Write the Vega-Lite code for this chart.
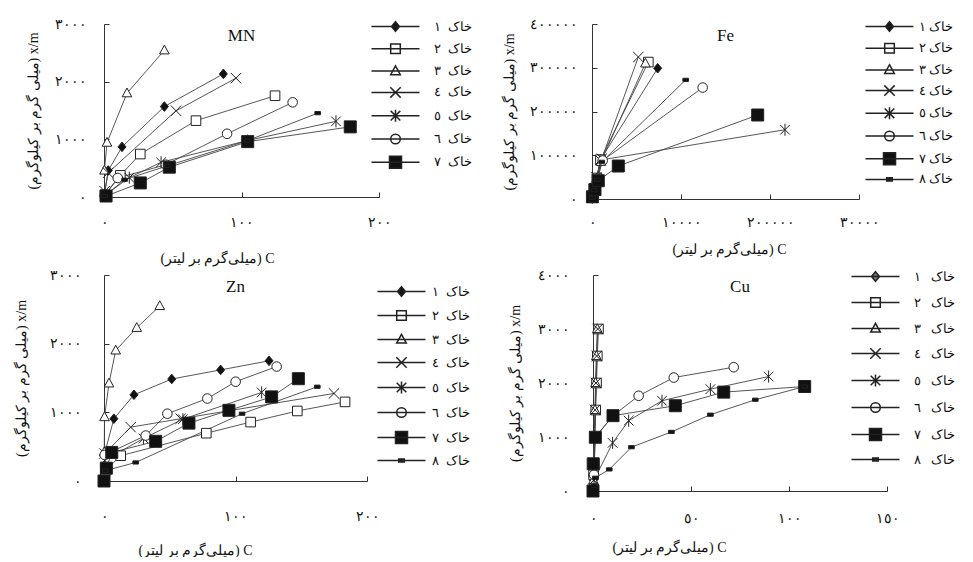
{
"$schema": "https://vega.github.io/schema/vega-lite/v6.json",
"background": "white",
"padding": {"left": 14, "top": 17, "right": 0, "bottom": 0},
"config": {
  "view": {"stroke": null},
  "font": "Liberation Serif",
  "axis": {"grid": false, "domainColor": "#333", "tickColor": "#333", "tickSize": -5, "labelFont": "Liberation Serif", "labelFontSize": 14, "labelColor": "#111", "labelFlush": false, "labelOverlap": false, "titleFont": "Liberation Serif", "titleFontSize": 14, "titleFontWeight": "normal", "titleColor": "#111", "labelAngle": 0},
  "legend": {"labelFont": "Liberation Serif", "labelFontSize": 13, "labelColor": "#111", "symbolSize": 64, "padding": 0, "direction": "vertical", "orient": "none", "title": null},
  "title": {"font": "Liberation Serif", "fontSize": 17, "fontWeight": "normal", "anchor": "middle", "offset": -28, "color": "#111"}
},
"datasets": {
  "mn": [
    {"soil":1,"C":0.5,"xm":60},{"soil":1,"C":3.1,"xm":460},{"soil":1,"C":13.1,"xm":869},{"soil":1,"C":43.9,"xm":1568},{"soil":1,"C":86.8,"xm":2135},
    {"soil":2,"C":0.8,"xm":40},{"soil":2,"C":11.9,"xm":375},{"soil":2,"C":26.4,"xm":745},{"soil":2,"C":66.9,"xm":1324},{"soil":2,"C":124.4,"xm":1756},
    {"soil":3,"C":0.3,"xm":460},{"soil":3,"C":2.2,"xm":943},{"soil":3,"C":16.7,"xm":1800},{"soil":3,"C":43.9,"xm":2544},
    {"soil":4,"C":0.5,"xm":100},{"soil":4,"C":3,"xm":420},{"soil":4,"C":52.4,"xm":1495},{"soil":4,"C":96,"xm":2061},
    {"soil":5,"C":0.5,"xm":30},{"soil":5,"C":18.4,"xm":335},{"soil":5,"C":41.5,"xm":602},{"soil":5,"C":104.5,"xm":980},{"soil":5,"C":168.7,"xm":1312},
    {"soil":6,"C":0.5,"xm":30},{"soil":6,"C":10,"xm":330},{"soil":6,"C":45,"xm":560},{"soil":6,"C":89.5,"xm":1096},{"soil":6,"C":137.2,"xm":1641},
    {"soil":7,"C":1.5,"xm":17},{"soil":7,"C":26.4,"xm":244},{"soil":7,"C":47.5,"xm":517},{"soil":7,"C":104.5,"xm":960},{"soil":7,"C":179.1,"xm":1216},
    {"soil":8,"C":0.5,"xm":20},{"soil":8,"C":15,"xm":300},{"soil":8,"C":46,"xm":540},{"soil":8,"C":104,"xm":975},{"soil":8,"C":155.4,"xm":1454}
  ],
  "fe": [
    {"soil":1,"C":30,"xm":3000},{"soil":1,"C":200,"xm":20000},{"soil":1,"C":500,"xm":45000},{"soil":1,"C":900,"xm":88000},{"soil":1,"C":7378,"xm":298800},
    {"soil":2,"C":30,"xm":3000},{"soil":2,"C":220,"xm":22000},{"soil":2,"C":550,"xm":48000},{"soil":2,"C":950,"xm":90000},{"soil":2,"C":6330,"xm":313000},
    {"soil":3,"C":30,"xm":3000},{"soil":3,"C":200,"xm":21000},{"soil":3,"C":520,"xm":46000},{"soil":3,"C":1000,"xm":85000},{"soil":3,"C":6000,"xm":310000},
    {"soil":4,"C":30,"xm":3500},{"soil":4,"C":200,"xm":22000},{"soil":4,"C":500,"xm":50000},{"soil":4,"C":1100,"xm":92000},{"soil":4,"C":5206,"xm":324600},
    {"soil":5,"C":40,"xm":3000},{"soil":5,"C":250,"xm":20000},{"soil":5,"C":600,"xm":45000},{"soil":5,"C":900,"xm":89000},{"soil":5,"C":21685,"xm":158300},
    {"soil":6,"C":30,"xm":3000},{"soil":6,"C":250,"xm":22000},{"soil":6,"C":600,"xm":46000},{"soil":6,"C":1200,"xm":88000},{"soil":6,"C":12434,"xm":254700},
    {"soil":7,"C":50,"xm":5000},{"soil":7,"C":337,"xm":21700},{"soil":7,"C":708,"xm":41700},{"soil":7,"C":2955,"xm":75400},{"soil":7,"C":18618,"xm":192000},
    {"soil":8,"C":30,"xm":3000},{"soil":8,"C":220,"xm":20000},{"soil":8,"C":600,"xm":44000},{"soil":8,"C":1100,"xm":85000},{"soil":8,"C":10524,"xm":272300}
  ],
  "zn": [
    {"soil":1,"C":0.5,"xm":400},{"soil":1,"C":7.5,"xm":907},{"soil":1,"C":22.8,"xm":1255},{"soil":1,"C":51.5,"xm":1485},{"soil":1,"C":88.7,"xm":1618},{"soil":1,"C":125.5,"xm":1750},
    {"soil":2,"C":1,"xm":150},{"soil":2,"C":12.7,"xm":368},{"soil":2,"C":77.8,"xm":696},{"soil":2,"C":111.5,"xm":858},{"soil":2,"C":147,"xm":1020},{"soil":2,"C":183.3,"xm":1152},
    {"soil":3,"C":0.2,"xm":420},{"soil":3,"C":0.4,"xm":931},{"soil":3,"C":3.8,"xm":1422},{"soil":3,"C":8.9,"xm":1902},{"soil":3,"C":24.9,"xm":2231},{"soil":3,"C":42.4,"xm":2549},
    {"soil":4,"C":0.5,"xm":400},{"soil":4,"C":20.3,"xm":784},{"soil":4,"C":58.3,"xm":907},{"soil":4,"C":174.9,"xm":1275},
    {"soil":5,"C":0.5,"xm":300},{"soil":5,"C":30,"xm":620},{"soil":5,"C":60,"xm":900},{"soil":5,"C":119.9,"xm":1290},
    {"soil":6,"C":0.5,"xm":380},{"soil":6,"C":31.7,"xm":662},{"soil":6,"C":48.2,"xm":980},{"soil":6,"C":78.6,"xm":1201},{"soil":6,"C":100.1,"xm":1446},{"soil":6,"C":131.3,"xm":1667},
    {"soil":7,"C":0,"xm":0},{"soil":7,"C":1.8,"xm":187},{"soil":7,"C":5.9,"xm":416},{"soil":7,"C":39.3,"xm":578},{"soil":7,"C":64.6,"xm":843},{"soil":7,"C":95,"xm":1029},{"soil":7,"C":127.5,"xm":1225},{"soil":7,"C":147.8,"xm":1490},
    {"soil":8,"C":1,"xm":150},{"soil":8,"C":24.1,"xm":270},{"soil":8,"C":105,"xm":980},{"soil":8,"C":162.2,"xm":1373}
  ],
  "cu": [
    {"soil":1,"C":0.2,"xm":200},{"soil":1,"C":0.5,"xm":500},{"soil":1,"C":0.8,"xm":1000},{"soil":1,"C":1.2,"xm":1500},{"soil":1,"C":1.5,"xm":2000},{"soil":1,"C":2,"xm":2500},
    {"soil":2,"C":0.3,"xm":300},{"soil":2,"C":0.6,"xm":500},{"soil":2,"C":1,"xm":1000},{"soil":2,"C":1.4,"xm":1500},{"soil":2,"C":1.8,"xm":2000},{"soil":2,"C":2.2,"xm":2500},{"soil":2,"C":2.8,"xm":3000},
    {"soil":3,"C":0.2,"xm":200},{"soil":3,"C":0.4,"xm":500},{"soil":3,"C":0.7,"xm":1000},{"soil":3,"C":1,"xm":1500},{"soil":3,"C":1.3,"xm":2000},{"soil":3,"C":1.7,"xm":2500},{"soil":3,"C":2.2,"xm":3000},
    {"soil":4,"C":0.3,"xm":200},{"soil":4,"C":0.5,"xm":500},{"soil":4,"C":0.8,"xm":1000},{"soil":4,"C":1.1,"xm":1500},{"soil":4,"C":1.5,"xm":2000},{"soil":4,"C":1.9,"xm":2500},{"soil":4,"C":2.4,"xm":3000},
    {"soil":5,"C":0.5,"xm":200},{"soil":5,"C":10,"xm":891},{"soil":5,"C":18.2,"xm":1302},{"soil":5,"C":35.2,"xm":1671},{"soil":5,"C":59.9,"xm":1886},{"soil":5,"C":89.6,"xm":2120},
    {"soil":6,"C":0.5,"xm":300},{"soil":6,"C":1.2,"xm":995},{"soil":6,"C":10.2,"xm":1395},{"soil":6,"C":23.3,"xm":1763},{"soil":6,"C":41.2,"xm":2101},{"soil":6,"C":71.8,"xm":2292},
    {"soil":7,"C":0,"xm":0},{"soil":7,"C":0.1,"xm":504},{"soil":7,"C":1.2,"xm":995},{"soil":7,"C":10.2,"xm":1395},{"soil":7,"C":42,"xm":1579},{"soil":7,"C":66.7,"xm":1831},{"soil":7,"C":108,"xm":1935},
    {"soil":8,"C":0.5,"xm":100},{"soil":8,"C":1.2,"xm":246},{"soil":8,"C":8.3,"xm":400},{"soil":8,"C":19.6,"xm":811},{"soil":8,"C":40,"xm":1094},{"soil":8,"C":59.9,"xm":1413},{"soil":8,"C":82.8,"xm":1690},{"soil":8,"C":108,"xm":1935}
  ]
},
"resolve": {"scale": {"shape": "independent", "fill": "independent"}},
"spacing": 3,
"vconcat": [
 {"hconcat": [
  {"width": 275, "height": 173, "title": {"text": "MN"},
   "data": {"name": "mn"},
   "encoding": {
     "x": {"field": "C", "type": "quantitative", "scale": {"domain": [0, 200], "nice": false},
           "axis": {"values": [0, 100, 200], "labelExpr": "['٠','١٠٠','٢٠٠'][indexof([0,100,200], datum.value)]", "labelPadding": 23, "title": "(میلی‌گرم بر لیتر) C", "titlePadding": 22, "titleX": 113}},
     "y": {"field": "xm", "type": "quantitative", "scale": {"domain": [0, 3000], "nice": false},
           "axis": {"values": [0, 1000, 2000, 3000], "labelExpr": "['٠','١٠٠٠','٢٠٠٠','٣٠٠٠'][indexof([0,1000,2000,3000], datum.value)]", "labelPadding": 23, "title": "(میلی گرم بر کیلوگرم) x/m", "titlePadding": 14}}
   },
   "resolve": {"scale": {"shape": "independent", "fill": "independent"}},
   "layer": [
     {"mark": {"type": "line", "color": "#444", "strokeWidth": 0.9}, "encoding": {"detail": {"field": "soil", "type": "nominal"}}},
     {"mark": {"type": "point", "filled": true, "stroke": "#222", "strokeWidth": 1, "size": 64, "opacity": 1},
      "encoding": {
        "shape": {"field": "soil", "type": "nominal", "legend": null,
          "scale": {"domain": [1,2,3,4,5,6,7,8], "range": ["M0,-1.2L1,0L0,1.2L-1,0Z","M-1.2,-1.2H1.2V1.2H-1.2Z","M0,-1.3L1.2,0.9H-1.2Z","M-1.3,-1.3L1.3,1.3M-1.3,1.3L1.3,-1.3","M-1.2,-1.2L1.2,1.2M-1.2,1.2L1.2,-1.2M0,-1.5V1.5","M1.2,0A1.2,1.2,0,1,1,-1.2,0A1.2,1.2,0,1,1,1.2,0Z","M-1.5,-1.5H1.5V1.5H-1.5Z","M-0.7,-0.4H0.7V0.4H-0.7Z"]}},
        "fill": {"field": "soil", "type": "nominal", "legend": null, "scale": {"domain": [1,2,3,4,5,6,7,8], "range": ["#111","#fff","#fff","#fff","#fff","#fff","#111","#111"]}}
      }},
     {"transform": [{"filter": "datum.soil > 100"}],
      "mark": {"type": "point", "filled": true, "stroke": "#222", "strokeWidth": 1, "size": 64, "opacity": 1},
      "encoding": {
        "shape": {"field": "soil", "type": "nominal",
          "scale": {"domain": [8,7,6,5,4,3,2,1], "range": ["M-6,0H6M-0.7,-0.4H0.7V0.4H-0.7Z","M-6,0H6M-1.5,-1.5H1.5V1.5H-1.5Z","M-6,0H6M1.2,0A1.2,1.2,0,1,1,-1.2,0A1.2,1.2,0,1,1,1.2,0Z","M-6,0H6M-1.2,-1.2L1.2,1.2M-1.2,1.2L1.2,-1.2M0,-1.5V1.5","M-6,0H6M-1.3,-1.3L1.3,1.3M-1.3,1.3L1.3,-1.3","M-6,0H6M0,-1.3L1.2,0.9H-1.2Z","M-6,0H6M-1.2,-1.2H1.2V1.2H-1.2Z","M-6,0H6M0,-1.2L1,0L0,1.2L-1,0Z"]},
          "legend": {"legendX": 285, "legendY": -4, "rowPadding": 5.3, "labelOffset": 32, "values": [1,2,3,4,5,6,7],
            "labelExpr": "'خاک\u00a0\u00a0' + ['١','٢','٣','٤','٥','٦','٧','٨'][datum.value-1]"}},
        "fill": {"field": "soil", "type": "nominal", "legend": null, "scale": {"domain": [8,7,6,5,4,3,2,1], "range": ["#111","#111","#fff","#fff","#fff","#fff","#fff","#111"]}}
      }}
   ]},
  {"width": 267, "height": 175, "title": {"text": "Fe"},
   "data": {"name": "fe"},
   "encoding": {
     "x": {"field": "C", "type": "quantitative", "scale": {"domain": [0, 30000], "nice": false},
           "axis": {"values": [0, 10000, 20000, 30000], "labelExpr": "['٠','١٠٠٠٠','٢٠٠٠٠٠','٣٠٠٠٠'][indexof([0,10000,20000,30000], datum.value)]", "labelPadding": 21, "title": "(میلی‌گرم بر لیتر) C", "titlePadding": 13, "titleX": 137}},
     "y": {"field": "xm", "type": "quantitative", "scale": {"domain": [0, 400000], "nice": false},
           "axis": {"values": [0, 100000, 200000, 300000, 400000], "labelExpr": "['٠','١٠٠٠٠٠','٢٠٠٠٠٠','٣٠٠٠٠٠','٤٠٠٠٠٠'][indexof([0,100000,200000,300000,400000], datum.value)]", "labelPadding": 20, "title": "(میلی گرم بر کیلوگرم) x/m", "titlePadding": 13}}
   },
   "resolve": {"scale": {"shape": "independent", "fill": "independent"}},
   "layer": [
     {"mark": {"type": "line", "color": "#444", "strokeWidth": 0.9}, "encoding": {"detail": {"field": "soil", "type": "nominal"}}},
     {"mark": {"type": "point", "filled": true, "stroke": "#222", "strokeWidth": 1, "size": 64, "opacity": 1},
      "encoding": {
        "shape": {"field": "soil", "type": "nominal", "legend": null,
          "scale": {"domain": [1,2,3,4,5,6,7,8], "range": ["M0,-1.2L1,0L0,1.2L-1,0Z","M-1.2,-1.2H1.2V1.2H-1.2Z","M0,-1.3L1.2,0.9H-1.2Z","M-1.3,-1.3L1.3,1.3M-1.3,1.3L1.3,-1.3","M-1.2,-1.2L1.2,1.2M-1.2,1.2L1.2,-1.2M0,-1.5V1.5","M1.2,0A1.2,1.2,0,1,1,-1.2,0A1.2,1.2,0,1,1,1.2,0Z","M-1.5,-1.5H1.5V1.5H-1.5Z","M-0.7,-0.4H0.7V0.4H-0.7Z"]}},
        "fill": {"field": "soil", "type": "nominal", "legend": null, "scale": {"domain": [1,2,3,4,5,6,7,8], "range": ["#111","#fff","#fff","#fff","#fff","#fff","#111","#111"]}}
      }},
     {"transform": [{"filter": "datum.soil > 100"}],
      "mark": {"type": "point", "filled": true, "stroke": "#222", "strokeWidth": 1, "size": 64, "opacity": 1},
      "encoding": {
        "shape": {"field": "soil", "type": "nominal",
          "scale": {"domain": [8,7,6,5,4,3,2,1], "range": ["M-6,0H6M-0.7,-0.4H0.7V0.4H-0.7Z","M-6,0H6M-1.5,-1.5H1.5V1.5H-1.5Z","M-6,0H6M1.2,0A1.2,1.2,0,1,1,-1.2,0A1.2,1.2,0,1,1,1.2,0Z","M-6,0H6M-1.2,-1.2L1.2,1.2M-1.2,1.2L1.2,-1.2M0,-1.5V1.5","M-6,0H6M-1.3,-1.3L1.3,1.3M-1.3,1.3L1.3,-1.3","M-6,0H6M0,-1.3L1.2,0.9H-1.2Z","M-6,0H6M-1.2,-1.2H1.2V1.2H-1.2Z","M-6,0H6M0,-1.2L1,0L0,1.2L-1,0Z"]},
          "legend": {"legendX": 291, "legendY": -4, "rowPadding": 4.7, "labelOffset": 23, "values": [1,2,3,4,5,6,7,8],
            "labelExpr": "'خاک\u00a0' + ['١','٢','٣','٤','٥','٦','٧','٨'][datum.value-1]"}},
        "fill": {"field": "soil", "type": "nominal", "legend": null, "scale": {"domain": [8,7,6,5,4,3,2,1], "range": ["#111","#111","#fff","#fff","#fff","#fff","#fff","#111"]}}
      }}
   ]}
 ], "spacing": 30, "resolve": {"scale": {"shape": "independent", "fill": "independent"}}},
 {"hconcat": [
  {"width": 263, "height": 206, "title": {"text": "Zn"},
   "data": {"name": "zn"},
   "encoding": {
     "x": {"field": "C", "type": "quantitative", "scale": {"domain": [0, 200], "nice": false},
           "axis": {"values": [0, 100, 200], "labelExpr": "['٠','١٠٠','٢٠٠'][indexof([0,100,200], datum.value)]", "labelPadding": 33, "title": "(میلی‌گرم بر لیتر) C", "titlePadding": 20, "titleX": 91}},
     "y": {"field": "xm", "type": "quantitative", "scale": {"domain": [0, 3000], "nice": false},
           "axis": {"values": [0, 1000, 2000, 3000], "labelExpr": "['٠','١٠٠٠','٢٠٠٠','٣٠٠٠'][indexof([0,1000,2000,3000], datum.value)]", "labelPadding": 28, "title": "(میلی گرم بر کیلوگرم) x/m", "titlePadding": 21}}
   },
   "resolve": {"scale": {"shape": "independent", "fill": "independent"}},
   "layer": [
     {"mark": {"type": "line", "color": "#444", "strokeWidth": 0.9}, "encoding": {"detail": {"field": "soil", "type": "nominal"}}},
     {"mark": {"type": "point", "filled": true, "stroke": "#222", "strokeWidth": 1, "size": 64, "opacity": 1},
      "encoding": {
        "shape": {"field": "soil", "type": "nominal", "legend": null,
          "scale": {"domain": [1,2,3,4,5,6,7,8], "range": ["M0,-1.2L1,0L0,1.2L-1,0Z","M-1.2,-1.2H1.2V1.2H-1.2Z","M0,-1.3L1.2,0.9H-1.2Z","M-1.3,-1.3L1.3,1.3M-1.3,1.3L1.3,-1.3","M-1.2,-1.2L1.2,1.2M-1.2,1.2L1.2,-1.2M0,-1.5V1.5","M1.2,0A1.2,1.2,0,1,1,-1.2,0A1.2,1.2,0,1,1,1.2,0Z","M-1.5,-1.5H1.5V1.5H-1.5Z","M-0.7,-0.4H0.7V0.4H-0.7Z"]}},
        "fill": {"field": "soil", "type": "nominal", "legend": null, "scale": {"domain": [1,2,3,4,5,6,7,8], "range": ["#111","#fff","#fff","#fff","#fff","#fff","#111","#111"]}}
      }},
     {"transform": [{"filter": "datum.soil > 100"}],
      "mark": {"type": "point", "filled": true, "stroke": "#222", "strokeWidth": 1, "size": 64, "opacity": 1},
      "encoding": {
        "shape": {"field": "soil", "type": "nominal",
          "scale": {"domain": [8,7,6,5,4,3,2,1], "range": ["M-6,0H6M-0.7,-0.4H0.7V0.4H-0.7Z","M-6,0H6M-1.5,-1.5H1.5V1.5H-1.5Z","M-6,0H6M1.2,0A1.2,1.2,0,1,1,-1.2,0A1.2,1.2,0,1,1,1.2,0Z","M-6,0H6M-1.2,-1.2L1.2,1.2M-1.2,1.2L1.2,-1.2M0,-1.5V1.5","M-6,0H6M-1.3,-1.3L1.3,1.3M-1.3,1.3L1.3,-1.3","M-6,0H6M0,-1.3L1.2,0.9H-1.2Z","M-6,0H6M-1.2,-1.2H1.2V1.2H-1.2Z","M-6,0H6M0,-1.2L1,0L0,1.2L-1,0Z"]},
          "legend": {"legendX": 291, "legendY": 10, "rowPadding": 7, "labelOffset": 24, "values": [1,2,3,4,5,6,7,8],
            "labelExpr": "'خاک\u00a0\u00a0' + ['١','٢','٣','٤','٥','٦','٧','٨'][datum.value-1]"}},
        "fill": {"field": "soil", "type": "nominal", "legend": null, "scale": {"domain": [8,7,6,5,4,3,2,1], "range": ["#111","#111","#fff","#fff","#fff","#fff","#fff","#111"]}}
      }}
   ]},
  {"width": 294, "height": 216, "title": {"text": "Cu"},
   "data": {"name": "cu"},
   "encoding": {
     "x": {"field": "C", "type": "quantitative", "scale": {"domain": [0, 150], "nice": false},
           "axis": {"values": [0, 50, 100, 150], "labelExpr": "['٠','٥٠','١٠٠','١٥٠'][indexof([0,50,100,150], datum.value)]", "labelPadding": 25, "title": "(میلی‌گرم بر لیتر) C", "titlePadding": 15, "titleX": 76}},
     "y": {"field": "xm", "type": "quantitative", "scale": {"domain": [0, 4000], "nice": false},
           "axis": {"values": [0, 1000, 2000, 3000, 4000], "labelExpr": "['٠','١٠٠٠','٢٠٠٠','٣٠٠٠','٤٠٠٠'][indexof([0,1000,2000,3000,4000], datum.value)]", "labelPadding": 29, "title": "(میلی گرم بر کیلوگرم) x/m", "titlePadding": 15}}
   },
   "resolve": {"scale": {"shape": "independent", "fill": "independent"}},
   "layer": [
     {"mark": {"type": "line", "color": "#444", "strokeWidth": 0.9}, "encoding": {"detail": {"field": "soil", "type": "nominal"}}},
     {"mark": {"type": "point", "filled": true, "stroke": "#222", "strokeWidth": 1, "size": 64, "opacity": 1},
      "encoding": {
        "shape": {"field": "soil", "type": "nominal", "legend": null,
          "scale": {"domain": [1,2,3,4,5,6,7,8], "range": ["M0,-1.2L1,0L0,1.2L-1,0Z","M-1.2,-1.2H1.2V1.2H-1.2Z","M0,-1.3L1.2,0.9H-1.2Z","M-1.3,-1.3L1.3,1.3M-1.3,1.3L1.3,-1.3","M-1.2,-1.2L1.2,1.2M-1.2,1.2L1.2,-1.2M0,-1.5V1.5","M1.2,0A1.2,1.2,0,1,1,-1.2,0A1.2,1.2,0,1,1,1.2,0Z","M-1.5,-1.5H1.5V1.5H-1.5Z","M-0.7,-0.4H0.7V0.4H-0.7Z"]}},
        "fill": {"field": "soil", "type": "nominal", "legend": null, "scale": {"domain": [1,2,3,4,5,6,7,8], "range": ["#111","#fff","#fff","#fff","#fff","#fff","#111","#111"]}}
      }},
     {"transform": [{"filter": "datum.soil > 100"}],
      "mark": {"type": "point", "filled": true, "stroke": "#222", "strokeWidth": 1, "size": 64, "opacity": 1},
      "encoding": {
        "shape": {"field": "soil", "type": "nominal",
          "scale": {"domain": [8,7,6,5,4,3,2,1], "range": ["M-6,0H6M-0.7,-0.4H0.7V0.4H-0.7Z","M-6,0H6M-1.5,-1.5H1.5V1.5H-1.5Z","M-6,0H6M1.2,0A1.2,1.2,0,1,1,-1.2,0A1.2,1.2,0,1,1,1.2,0Z","M-6,0H6M-1.2,-1.2L1.2,1.2M-1.2,1.2L1.2,-1.2M0,-1.5V1.5","M-6,0H6M-1.3,-1.3L1.3,1.3M-1.3,1.3L1.3,-1.3","M-6,0H6M0,-1.3L1.2,0.9H-1.2Z","M-6,0H6M-1.2,-1.2H1.2V1.2H-1.2Z","M-6,0H6M0,-1.2L1,0L0,1.2L-1,0Z"]},
          "legend": {"legendX": 276, "legendY": -5, "rowPadding": 9, "labelOffset": 32, "values": [1,2,3,4,5,6,7,8],
            "labelExpr": "'خاک\u00a0\u00a0\u00a0' + ['١','٢','٣','٤','٥','٦','٧','٨'][datum.value-1]"}},
        "fill": {"field": "soil", "type": "nominal", "legend": null, "scale": {"domain": [8,7,6,5,4,3,2,1], "range": ["#111","#111","#fff","#fff","#fff","#fff","#fff","#777"]}}
      }}
   ]}
 ], "spacing": 38, "resolve": {"scale": {"shape": "independent", "fill": "independent"}}}
]
}
